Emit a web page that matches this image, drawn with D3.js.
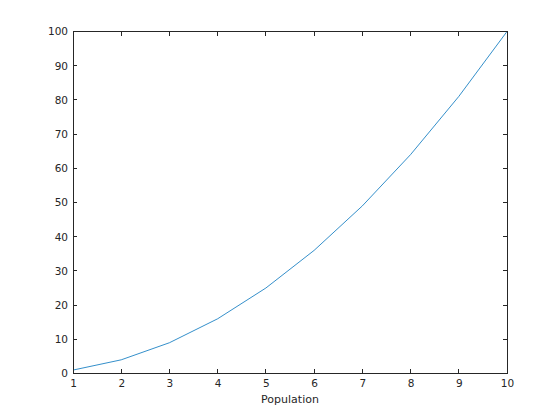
<!DOCTYPE html>
<html><head><meta charset="utf-8">
<script src="https://cdn.jsdelivr.net/npm/d3@7"></script>
<style>body{margin:0;background:#fff}svg{display:block}</style>
</head><body>
<script>
const xValues = [1,2,3,4,5,6,7,8,9,10];
const yValues = [1,4,9,16,25,36,49,64,81,100];
const xTicks = [1,2,3,4,5,6,7,8,9,10];
const yTicks = [0,10,20,30,40,50,60,70,80,90,100];
const xLabel = "Population";

const W=560,H=420;
const L=73,R=507,T=31.5,B=373.5;
const svg=d3.select("body").append("svg").attr("width",W).attr("height",H);
svg.append("rect").attr("width",W).attr("height",H).attr("fill","#fff");
const x=d3.scaleLinear().domain([1,10]).range([L,R]);
const y=d3.scaleLinear().domain([0,100]).range([B,T]);
const col="#262626";
const font="DejaVu Sans, sans-serif";
const tl=4.3;

const g=svg.append("g");
g.append("path").datum(xValues.map((d,i)=>[d,yValues[i]]))
 .attr("d",d3.line().x(d=>x(d[0])).y(d=>y(d[1])))
 .attr("fill","none").attr("stroke","#0072BD").attr("stroke-width",0.8);

g.append("rect").attr("x",L).attr("y",T).attr("width",R-L).attr("height",B-T)
 .attr("fill","none").attr("stroke",col).attr("stroke-width",1).attr("shape-rendering","crispEdges");

const ax=d3.axisBottom(x).tickValues(xTicks).tickSize(0).tickPadding(6).tickFormat(d3.format("d"));
const xg=g.append("g").attr("transform",`translate(0,${B})`).call(ax);
xg.select(".domain").remove();
xg.selectAll("text").attr("font-family",font).attr("font-size",10.5).attr("fill",col);
const ay=d3.axisLeft(y).tickValues(yTicks).tickSize(0).tickPadding(5).tickFormat(d3.format("d"));
const yg=g.append("g").attr("transform",`translate(${L},0)`).call(ay);
yg.select(".domain").remove();
yg.selectAll("text").attr("font-family",font).attr("font-size",10.5).attr("fill",col);

xTicks.forEach(t=>{
  g.append("line").attr("x1",x(t)).attr("x2",x(t)).attr("y1",B).attr("y2",B-tl).attr("stroke",col).attr("shape-rendering","crispEdges");
  g.append("line").attr("x1",x(t)).attr("x2",x(t)).attr("y1",T).attr("y2",T+tl).attr("stroke",col).attr("shape-rendering","crispEdges");
});
yTicks.forEach(t=>{
  g.append("line").attr("x1",L).attr("x2",L+tl).attr("y1",y(t)).attr("y2",y(t)).attr("stroke",col).attr("shape-rendering","crispEdges");
  g.append("line").attr("x1",R).attr("x2",R-tl).attr("y1",y(t)).attr("y2",y(t)).attr("stroke",col).attr("shape-rendering","crispEdges");
});

svg.append("text").attr("x",(L+R)/2).attr("y",403).attr("text-anchor","middle")
 .attr("font-family",font).attr("font-size",11).attr("fill",col).text(xLabel);
</script>
</body></html>
